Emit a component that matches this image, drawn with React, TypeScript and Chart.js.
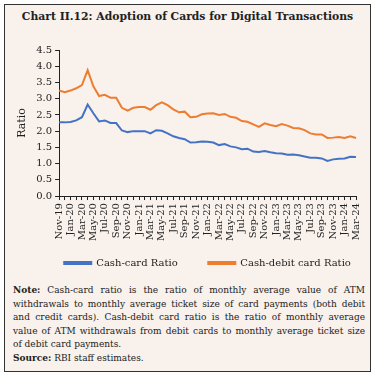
import React, { useEffect, useRef } from "react";
import { Chart, registerables } from "chart.js";

Chart.register(...registerables);

const months: string[] = [
  "Nov-19", "Dec-19",
  "Jan-20", "Feb-20", "Mar-20", "Apr-20", "May-20", "Jun-20", "Jul-20", "Aug-20", "Sep-20", "Oct-20", "Nov-20", "Dec-20",
  "Jan-21", "Feb-21", "Mar-21", "Apr-21", "May-21", "Jun-21", "Jul-21", "Aug-21", "Sep-21", "Oct-21", "Nov-21", "Dec-21",
  "Jan-22", "Feb-22", "Mar-22", "Apr-22", "May-22", "Jun-22", "Jul-22", "Aug-22", "Sep-22", "Oct-22", "Nov-22", "Dec-22",
  "Jan-23", "Feb-23", "Mar-23", "Apr-23", "May-23", "Jun-23", "Jul-23", "Aug-23", "Sep-23", "Oct-23", "Nov-23", "Dec-23",
  "Jan-24", "Feb-24", "Mar-24",
];

const cashCardRatio: number[] = [
  2.27, 2.27, 2.28, 2.33, 2.43, 2.82, 2.55, 2.30, 2.33, 2.25, 2.25, 2.02, 1.97, 2.00, 2.00, 2.00, 1.93, 2.03, 2.01, 1.93,
  1.84, 1.79, 1.75, 1.65, 1.66, 1.68, 1.67, 1.65, 1.57, 1.60, 1.53, 1.50, 1.44, 1.46, 1.37, 1.36, 1.39, 1.35, 1.32, 1.31,
  1.27, 1.28, 1.26, 1.22, 1.18, 1.18, 1.16, 1.08, 1.13, 1.15, 1.16, 1.21, 1.20,
];

const cashDebitCardRatio: number[] = [
  3.25, 3.20, 3.25, 3.32, 3.42, 3.88, 3.38, 3.08, 3.12, 3.03, 3.03, 2.72, 2.63, 2.72, 2.74, 2.74, 2.66, 2.80, 2.89, 2.80,
  2.67, 2.58, 2.60, 2.43, 2.44, 2.52, 2.54, 2.55, 2.50, 2.53, 2.44, 2.41, 2.31, 2.29, 2.21, 2.13, 2.24, 2.19, 2.15, 2.22,
  2.17, 2.10, 2.09, 2.03, 1.93, 1.90, 1.90, 1.79, 1.80, 1.82, 1.79, 1.84, 1.79,
];

const seriesNames: string[] = ["Cash-card Ratio", "Cash-debit card Ratio"];
const yTicks = { min: 0, max: 4.5, step: 0.5 };

const titleText = "Chart II.12: Adoption of Cards for Digital Transactions";
const noteLines: { bold?: string; text: string; justify: boolean }[] = [
  { bold: "Note:", text: " Cash-card ratio is the ratio of monthly average value of ATM", justify: true },
  { text: "withdrawals to monthly average ticket size of card payments (both debit", justify: true },
  { text: "and credit cards). Cash-debit card ratio is the ratio of monthly average", justify: true },
  { text: "value of ATM withdrawals from debit cards to monthly average ticket size", justify: true },
  { text: "of debit card payments.", justify: false },
  { bold: "Source:", text: " RBI staff estimates.", justify: false },
];

const BLUE = "#4472C4";
const ORANGE = "#ED7D31";
const BG = "#F8F1EC";
const SERIF = "'DejaVu Serif', serif";
const LEGEND_GAP = "\u00A0".repeat(9);

export default function App() {
  const ref = useRef<HTMLCanvasElement>(null);

  useEffect(() => {
    const tickFont = { family: SERIF, size: 10 };
    const chart = new Chart(ref.current as HTMLCanvasElement, {
      type: "line",
      data: {
        labels: months,
        datasets: [
          {
            label: seriesNames[0],
            data: cashCardRatio,
            borderColor: BLUE,
            backgroundColor: BLUE,
            borderWidth: 2,
            pointRadius: 0,
            tension: 0,
          },
          {
            label: seriesNames[1],
            data: cashDebitCardRatio,
            borderColor: ORANGE,
            backgroundColor: ORANGE,
            borderWidth: 2,
            pointRadius: 0,
            tension: 0,
          },
        ],
      },
      options: {
        animation: false,
        responsive: false,
        maintainAspectRatio: false,
        layout: { padding: { top: 4, right: 9, left: 11, bottom: 4 } },
        plugins: {
          tooltip: { enabled: false },
          legend: {
            position: "bottom",
            fullSize: false,
            labels: {
              boxWidth: 27,
              boxHeight: 2,
              padding: 2,
              color: "#222",
              font: { family: SERIF, size: 10 },
              generateLabels: (c: any) => {
                const items = Chart.defaults.plugins.legend.labels.generateLabels(c);
                return items.map((it: any, i: number) =>
                  i < items.length - 1 ? { ...it, text: it.text + LEGEND_GAP } : it
                );
              },
            },
          },
        },
        scales: {
          x: {
            grid: { drawOnChartArea: false, tickLength: 4, color: "#222" },
            border: { color: "#222", width: 1 },
            afterFit: (scale: any) => {
              scale.height += 12;
            },
            ticks: {
              autoSkip: false,
              maxRotation: 90,
              minRotation: 90,
              padding: 3,
              color: "#222",
              font: tickFont,
              callback: (_v: any, i: number) => (i % 2 === 0 ? months[i] : ""),
            },
          },
          y: {
            min: yTicks.min,
            max: yTicks.max,
            grid: { drawOnChartArea: false, tickLength: 4, color: "#222" },
            border: { color: "#222", width: 1 },
            ticks: {
              stepSize: yTicks.step,
              autoSkip: false,
              padding: 3,
              color: "#222",
              font: tickFont,
              callback: (v: any) => Number(v).toFixed(1),
            },
            title: {
              display: true,
              text: "Ratio",
              color: "#222",
              font: { family: SERIF, size: 11 },
              padding: { top: 0, bottom: 4 },
            },
          },
        },
      },
    });
    return () => chart.destroy();
  }, []);

  return (
    <div
      style={{
        position: "absolute",
        left: 4,
        top: 4,
        width: 365,
        height: 366,
        border: "1.5px solid #333",
        background: BG,
        overflow: "hidden",
      }}
    >
      <div
        style={{
          position: "absolute",
          left: 0,
          top: 5,
          width: "100%",
          textAlign: "center",
          fontFamily: SERIF,
          fontWeight: "bold",
          fontSize: 10.8,
          color: "#222",
          lineHeight: "14px",
        }}
      >
        {titleText}
      </div>
      <canvas
        ref={ref}
        width={366}
        height={241}
        style={{ position: "absolute", left: 0, top: 36, width: 366, height: 241 }}
      />
      {noteLines.map((ln, i) => (
        <div
          key={i}
          style={{
            position: "absolute",
            left: 8,
            width: 352,
            top: 279 + i * 13.6,
            fontFamily: SERIF,
            fontSize: 9,
            lineHeight: "13px",
            color: "#222",
            whiteSpace: "nowrap",
            textAlign: ln.justify ? "justify" : "left",
            textAlignLast: ln.justify ? "justify" : "left",
          }}
        >
          {ln.bold ? <b>{ln.bold}</b> : null}
          {ln.text}
        </div>
      ))}
    </div>
  );
}
